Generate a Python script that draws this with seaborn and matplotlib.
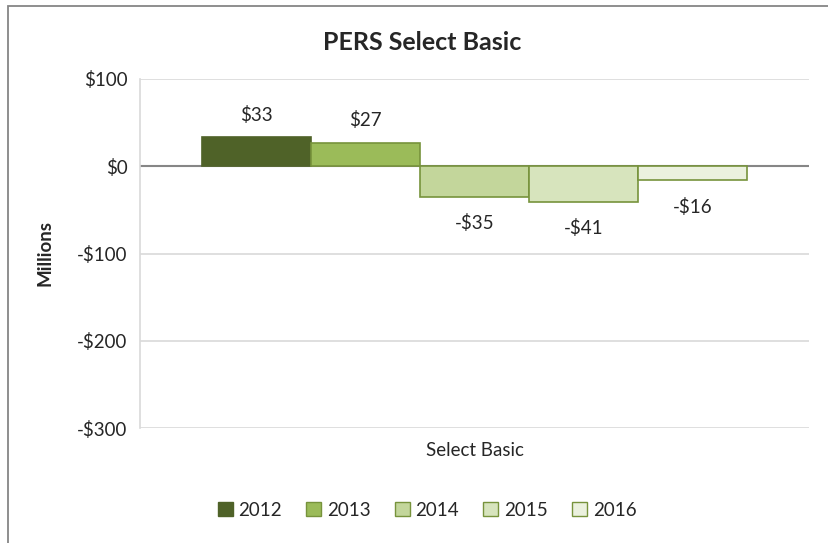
import matplotlib
matplotlib.use("Agg")
import matplotlib.pyplot as plt
import seaborn as sns
import pandas as pd
from matplotlib.patches import Rectangle

categories = ["Select Basic"]
years = ["2012", "2013", "2014", "2015", "2016"]
values = [33, 27, -35, -41, -16]
labels = ["$33", "$27", "-$35", "-$41", "-$16"]
yticks = [100, 0, -100, -200, -300]
ytick_labels = ["$100", "$0", "-$100", "-$200", "-$300"]
colors = ["#4F6228", "#9BBB59", "#C3D69B", "#D7E4BD", "#EBF1DE"]

sns.set_style("white")
plt.rcParams["font.family"] = ["Lato", "DejaVu Sans"]

FS = 13.5
df = pd.DataFrame({"cat": categories * len(years), "year": years, "value": values})

fig = plt.figure(figsize=(8.29, 5.43), dpi=100)
ax = fig.add_axes([140/829, 1-428/543, (809-140)/829, (428-79)/543])

sns.barplot(data=df, x="cat", y="value", hue="year", palette=colors, ax=ax,
            width=0.815, saturation=1, legend=True)

edge = "#77933C"
for i, p in enumerate(ax.patches[:len(years)]):
    p.set_edgecolor(edge if i > 0 else colors[0])
    p.set_linewidth(1.2)
    p.set_zorder(3)

ax.set_ylim(-300, 100)
ax.set_xlim(-0.5, 0.5)
ax.set_yticks(yticks)
ax.set_yticklabels(ytick_labels, fontsize=FS)
ax.tick_params(axis="y", length=5, color="#D9D9D9", width=1, pad=4)
ax.tick_params(axis="x", length=0, pad=10, labelsize=FS)
ax.grid(axis="y", color="#D9D9D9", linewidth=1.2)
ax.set_axisbelow(True)
ax.axhline(0, color="#868686", linewidth=1.5, zorder=2)
for s in ["top", "right", "bottom"]:
    ax.spines[s].set_visible(False)
ax.spines["left"].set_color("#D9D9D9")
ax.spines["left"].set_linewidth(1.2)

ax.set_xlabel("")
ax.set_ylabel("Millions", fontsize=FS, fontweight="bold", labelpad=17)

# data labels
for p, lab, v in zip(ax.patches[:len(years)], labels, values):
    x = p.get_x() + p.get_width() / 2
    off = 16.5 if v >= 0 else -19
    ax.annotate(lab, (x, v), xytext=(0, off), textcoords="offset points",
                ha="center", va="center", fontsize=FS)

fig.text(422/829, 1 - 43/543, "PERS Select Basic", fontsize=18, fontweight="bold",
         ha="center", va="center")

handles, hlabels = ax.get_legend_handles_labels()
ax.get_legend().remove()
leg = fig.legend(handles, hlabels, loc="center", bbox_to_anchor=(427/829, 1 - 510/543),
                 ncol=5, frameon=False, fontsize=FS, handlelength=0.8, handleheight=0.8,
                 handletextpad=0.3, columnspacing=1.3)
for i, h in enumerate(leg.legend_handles):
    h.set_edgecolor(edge if i > 0 else colors[0])

# outer chart border (top and left visible)
fig.patches.append(Rectangle((8/829, -0.1), 1.2, 1 - 6/543 + 0.1, transform=fig.transFigure,
                             fill=False, edgecolor="#868686", linewidth=1.3))

fig.savefig("out.png", dpi=100)
